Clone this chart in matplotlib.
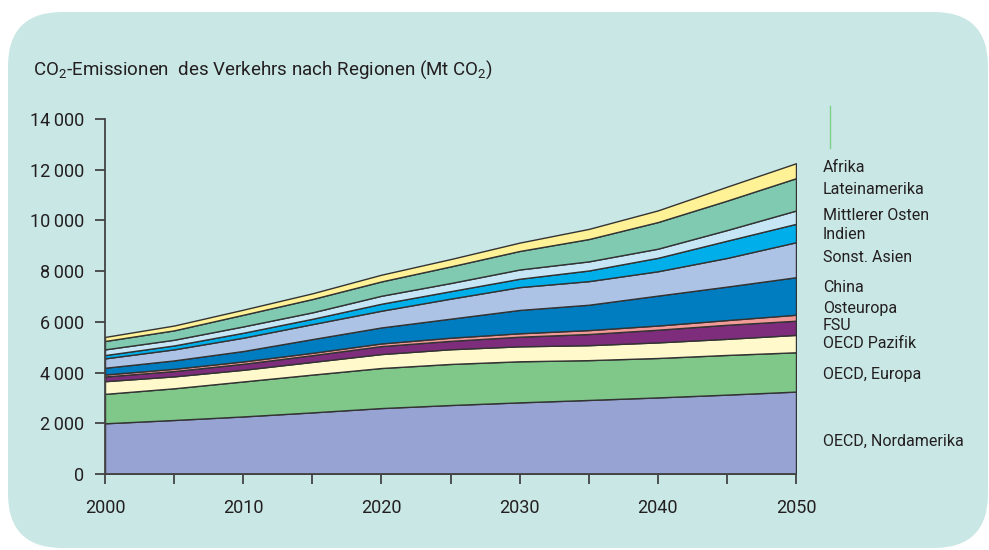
import matplotlib
matplotlib.use("Agg")
import matplotlib.pyplot as plt
from matplotlib.patches import FancyBboxPatch
import numpy as np

# CO2 emissions of transport by region (Mt CO2)
years = [2000, 2005, 2010, 2015, 2020, 2025, 2030, 2035, 2040, 2045, 2050]

nordamerika = [2000, 2130, 2270, 2430, 2600, 2720, 2825, 2920, 3020, 3130, 3250]
europa      = [1160, 1250, 1380, 1490, 1580, 1620, 1620, 1570, 1555, 1565, 1550]
pazifik     = [500, 470, 460, 500, 550, 580, 590, 590, 615, 635, 685]
fsu         = [185, 210, 235, 265, 315, 330, 380, 440, 500, 555, 560]
osteuropa   = [80, 90, 95, 95, 105, 125, 135, 155, 165, 185, 235]
china       = [265, 330, 410, 540, 630, 750, 920, 1000, 1180, 1320, 1480]
sonst_asien = [370, 435, 525, 590, 660, 790, 900, 930, 960, 1130, 1380]
indien      = [130, 155, 195, 210, 275, 295, 330, 420, 530, 680, 725]
mittl_osten = [225, 225, 250, 255, 315, 320, 365, 360, 360, 420, 525]
latein      = [330, 370, 460, 525, 565, 655, 730, 880, 1050, 1160, 1275]
afrika      = [160, 190, 200, 225, 265, 290, 330, 400, 460, 550, 590]

series = [nordamerika, europa, pazifik, fsu, osteuropa, china,
          sonst_asien, indien, mittl_osten, latein, afrika]
colors = ["#96a3d3", "#80c78a", "#fff9cc", "#7d2d7b", "#f29a98", "#007dc1",
          "#adc3e5", "#00aeea", "#c6e6f6", "#7fcab0", "#fff196"]

labels = ["OECD, Nordamerika", "OECD, Europa", "OECD Pazifik", "FSU", "Osteuropa",
          "China", "Sonst. Asien", "Indien", "Mittlerer Osten", "Lateinamerika", "Afrika"]
label_y = [441, 374, 344, 326, 309, 288, 257, 234, 216, 190, 168]  # pixel rows

bg = "#c9e7e5"
txt = "#231f20"
plt.rcParams["font.family"] = ["Roboto", "DejaVu Sans"]
plt.rcParams["mathtext.fontset"] = "custom"
plt.rcParams["mathtext.rm"] = "Roboto"

W, H = 989, 550
fig = plt.figure(figsize=(W / 100, H / 100), dpi=100)
fig.patch.set_facecolor("white")

box = FancyBboxPatch((8 / W, 2 / H), (W - 9) / W, (H - 14) / H,
                     boxstyle="round,pad=0,rounding_size=0.055",
                     transform=fig.transFigure, facecolor=bg, edgecolor="none",
                     mutation_aspect=W / H, zorder=-5)
fig.patches.append(box)

ax = fig.add_axes([105 / W, 1 - 474 / H, (796 - 105) / W, (474 - 119) / H])
ax.set_facecolor("none")
ax.set_zorder(2)

ax.stackplot(years, *series, colors=colors, edgecolor="#333333", linewidth=1.0)

ax.set_xlim(2000, 2050)
ax.set_ylim(0, 14000)
ax.set_xticks(range(2000, 2051, 5))
ax.set_xticklabels([str(y) if y % 10 == 0 else "" for y in range(2000, 2051, 5)])
ax.set_yticks(range(0, 14001, 2000))
ax.set_yticklabels(["0", "2\u2009000", "4\u2009000", "6\u2009000", "8\u2009000",
                    "10\u2009000", "12\u2009000", "14\u2009000"])
for s in ["top", "right"]:
    ax.spines[s].set_visible(False)
for s in ["left", "bottom"]:
    ax.spines[s].set_color("#444444")
    ax.spines[s].set_linewidth(1.3)
ax.tick_params(axis="both", direction="out", length=7, width=1.3, color="#444444",
               labelsize=13, labelcolor=txt)
ax.tick_params(axis="y", pad=8)
ax.tick_params(axis="x", pad=11)

fig.text(33 / W, 1 - 70 / H, "CO$_2$-Emissionen  des Verkehrs nach Regionen (Mt CO$_2$)",
         fontsize=13.5, color=txt, va="center", ha="left")

for lab, py in zip(labels, label_y):
    fig.text(823 / W, 1 - py / H, lab, fontsize=11.5, color=txt, va="center", ha="left")

# small green mark above the labels
fig.add_artist(plt.Line2D([830 / W, 830 / W], [1 - 106 / H, 1 - 148 / H],
                          color="#7fd08a", linewidth=1.0))

fig.savefig("out.png", dpi=100, facecolor=fig.get_facecolor())
